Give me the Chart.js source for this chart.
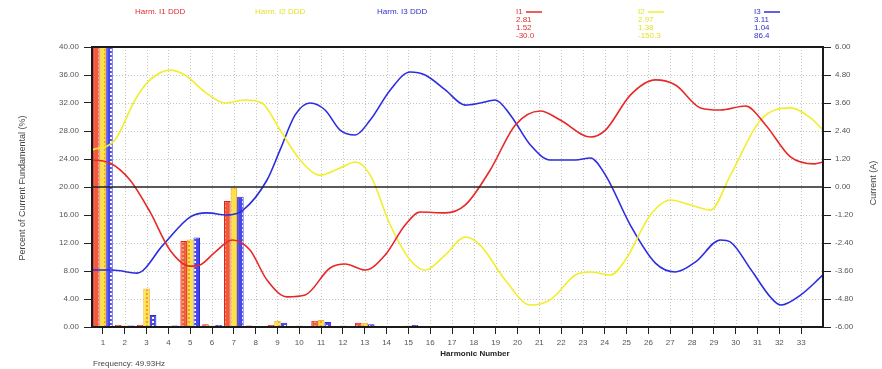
<!DOCTYPE html>
<html>
<head>
<meta charset="utf-8">
<script src="https://cdn.jsdelivr.net/npm/chart.js@4.4.1/dist/chart.umd.min.js"></script>
<style>
  html, body { margin: 0; padding: 0; background: #ffffff; }
  #wrap { width: 882px; height: 369px; position: relative; }
</style>
</head>
<body>
<div id="wrap"><canvas id="chart" width="882" height="369"></canvas></div>
<script>
// Harmonic orders on the x axis
const harmonics = [1,2,3,4,5,6,7,8,9,10,11,12,13,14,15,16,17,18,19,20,21,22,23,24,25,26,27,28,29,30,31,32,33];

// Harmonic magnitudes, percent of fundamental, per phase current
const harmI1 = [100,0.3,0.3,0.1,12.3,0.4,18.0,0.2,0.3,0.1,0.9,0.1,0.6,0.1,0.1,0.05,0.05,0.05,0.05,0.05,0.05,0.05,0.05,0.05,0.05,0.05,0.05,0.05,0.05,0.05,0.05,0.05,0.05];
const harmI2 = [100,0.2,5.5,0.1,12.5,0.2,19.9,0.1,0.9,0.2,1.0,0.2,0.6,0.1,0.2,0.05,0.05,0.05,0.05,0.05,0.05,0.05,0.05,0.05,0.05,0.05,0.05,0.05,0.05,0.05,0.05,0.05,0.05];
const harmI3 = [100,0.2,1.7,0.2,12.8,0.3,18.6,0.1,0.6,0.1,0.7,0.1,0.4,0.1,0.3,0.05,0.05,0.05,0.05,0.05,0.05,0.05,0.05,0.05,0.05,0.05,0.05,0.05,0.05,0.05,0.05,0.05,0.05];

// Current waveforms over one cycle, [position on harmonic axis, amps]
const waveI1 = [[0.50,1.16],[1.32,1.03],[2.24,0.30],[3.16,-1.07],[4.07,-2.70],[4.99,-3.39],[5.45,-3.34],[6.14,-2.79],[6.92,-2.27],[7.74,-2.70],[8.52,-3.99],[9.44,-4.71],[10.27,-4.63],[11.41,-3.47],[12.10,-3.30],[13.02,-3.56],[13.94,-2.91],[14.85,-1.63],[15.54,-1.07],[16.69,-1.11],[17.61,-0.77],[18.75,0.73],[19.90,2.66],[21.05,3.26],[21.96,2.87],[23.34,2.14],[24.03,2.44],[25.17,3.94],[26.32,4.59],[27.24,4.37],[28.39,3.39],[29.30,3.30],[30.45,3.47],[31.37,2.66],[32.51,1.29],[33.61,0.99],[34.00,1.07]];
const waveI2 = [[0.50,1.59],[1.55,2.01],[2.47,3.73],[3.16,4.59],[4.07,5.01],[4.76,4.80],[5.68,4.07],[6.60,3.60],[7.51,3.73],[8.29,3.60],[9.12,2.44],[10.04,1.16],[10.95,0.51],[11.87,0.81],[12.56,1.07],[13.25,0.51],[14.17,-1.63],[15.08,-3.13],[15.77,-3.56],[16.69,-2.91],[17.61,-2.14],[18.29,-2.49],[19.44,-3.99],[20.59,-5.06],[21.50,-4.84],[22.65,-3.77],[23.34,-3.64],[24.26,-3.77],[24.94,-3.13],[26.09,-1.20],[27.01,-0.56],[27.93,-0.77],[28.84,-0.99],[29.76,0.51],[31.14,2.87],[32.51,3.39],[33.43,2.96],[34.00,2.44]];
const waveI3 = [[0.50,-3.56],[1.42,-3.56],[2.56,-3.69],[3.75,-2.49],[4.99,-1.29],[5.77,-1.11],[6.69,-1.20],[7.42,-0.99],[8.52,0.30],[9.12,1.59],[9.81,3.09],[10.50,3.60],[11.18,3.30],[11.87,2.44],[12.56,2.23],[13.25,2.87],[14.17,4.16],[15.08,4.93],[15.77,4.80],[16.69,4.16],[17.61,3.51],[18.29,3.60],[18.98,3.73],[19.67,3.09],[20.59,1.80],[21.50,1.16],[22.65,1.16],[23.34,1.24],[24.03,0.51],[25.17,-1.63],[26.32,-3.26],[27.24,-3.64],[28.16,-3.21],[29.30,-2.27],[29.76,-2.36],[30.71,-3.56],[31.63,-4.76],[32.06,-5.06],[32.97,-4.63],[34.00,-3.77]];

// Axis ticks
const percentTicks = [0,4,8,12,16,20,24,28,32,36,40];
const ampTicks = [-6,-4.8,-3.6,-2.4,-1.2,0,1.2,2.4,3.6,4.8,6];

// Header labels and readings
const seriesNames = ['Harm. I1 DDD', 'Harm. I2 DDD', 'Harm. I3 DDD'];
const phaseNames = ['I1', 'I2', 'I3'];
const readingsI1 = ['2.81', '1.52', '-30.0'];
const readingsI2 = ['2.97', '1.38', '-150.3'];
const readingsI3 = ['3.11', '1.04', '86.4'];
const frequencyText = 'Frequency: 49.93Hz';

const RED = '#e82828', YELLOW = '#f2ee2c', BLUE = '#2c2ce0';
const FONT = '"Liberation Sans", Arial, sans-serif';

function barPattern(base, mark) {
  const c = document.createElement('canvas');
  c.width = 6; c.height = 4;
  const g = c.getContext('2d');
  g.fillStyle = base; g.fillRect(0, 0, 6, 4);
  g.fillStyle = mark; g.fillRect(2, 1, 2, 2);
  return g.createPattern(c, 'repeat');
}

const toPoints = arr => arr.map(p => ({ x: p[0], y: p[1] }));
const toBars = vals => harmonics.map((h, i) => ({ x: h, y: vals[i] }));

const decor = {
  id: 'decor',
  beforeDatasetsDraw(chart) {
    const { ctx, chartArea: a, scales } = chart;
    ctx.save();
    ctx.strokeStyle = '#c4c4c4';
    ctx.lineWidth = 1;
    ctx.setLineDash([1, 2]);
    harmonics.forEach(h => {
      const x = Math.round(scales.x.getPixelForValue(h)) + 0.5;
      ctx.beginPath(); ctx.moveTo(x, a.top); ctx.lineTo(x, a.bottom); ctx.stroke();
    });
    percentTicks.forEach(v => {
      if (v === 0 || v === 40 || v === 20) return;
      const y = Math.round(scales.y.getPixelForValue(v)) + 0.5;
      ctx.beginPath(); ctx.moveTo(a.left, y); ctx.lineTo(a.right, y); ctx.stroke();
    });
    ctx.restore();
  },
  afterDatasetsDraw(chart) {
    const { ctx, chartArea: a, scales } = chart;
    ctx.save();
    // zero-current reference line
    const y0 = scales.y1.getPixelForValue(0);
    ctx.strokeStyle = '#222';
    ctx.lineWidth = 1.3;
    ctx.beginPath(); ctx.moveTo(a.left, y0); ctx.lineTo(a.right, y0); ctx.stroke();
    // plot frame
    ctx.strokeStyle = '#1a1a1a';
    ctx.lineWidth = 2;
    ctx.strokeRect(a.left, a.top, a.right - a.left, a.bottom - a.top);
    ctx.restore();
  },
  afterDraw(chart) {
    const { ctx } = chart;
    ctx.save();
    ctx.textBaseline = 'middle';
    ctx.font = '8px ' + FONT;

    // series names
    const nameX = [135, 255, 377];
    const colors = ['#e03030', '#e6e22a', '#3030c8'];
    seriesNames.forEach((t, i) => {
      ctx.fillStyle = colors[i];
      ctx.textAlign = 'left';
      ctx.fillText(t, nameX[i], 12);
    });

    // per-phase readings
    const colX = [516, 638, 754];
    const readings = [readingsI1, readingsI2, readingsI3];
    const lineCols = [RED, YELLOW, BLUE];
    phaseNames.forEach((p, i) => {
      ctx.fillStyle = colors[i];
      ctx.textAlign = 'left';
      ctx.fillText(p, colX[i], 12);
      ctx.strokeStyle = lineCols[i];
      ctx.lineWidth = 1.5;
      ctx.beginPath(); ctx.moveTo(colX[i] + 10, 12); ctx.lineTo(colX[i] + 26, 12); ctx.stroke();
      readings[i].forEach((r, k) => ctx.fillText(r, colX[i], 20 + k * 8));
    });

    // axis titles
    ctx.fillStyle = '#444';
    ctx.font = '9px ' + FONT;
    ctx.textAlign = 'center';
    ctx.save();
    ctx.translate(23, 188);
    ctx.rotate(-Math.PI / 2);
    ctx.fillText('Percent of Current Fundamental (%)', 0, 0);
    ctx.restore();
    ctx.save();
    ctx.translate(874, 183);
    ctx.rotate(-Math.PI / 2);
    ctx.fillText('Current (A)', 0, 0);
    ctx.restore();

    ctx.fillStyle = '#222';
    ctx.font = 'bold 8px ' + FONT;
    ctx.fillText('Harmonic Number', 475, 354);
    ctx.font = '8px ' + FONT;
    ctx.fillStyle = '#444';
    ctx.textAlign = 'left';
    ctx.fillText(frequencyText, 93, 364);
    ctx.restore();
  }
};

const tickFont = { family: FONT, size: 8 };

new Chart(document.getElementById('chart'), {
  type: 'bar',
  data: {
    datasets: [
      { type: 'line', label: 'I1', data: toPoints(waveI1), yAxisID: 'y1', borderColor: RED, borderWidth: 1.6, pointRadius: 0, cubicInterpolationMode: 'monotone', fill: false, order: 0 },
      { type: 'line', label: 'I2', data: toPoints(waveI2), yAxisID: 'y1', borderColor: YELLOW, borderWidth: 1.6, pointRadius: 0, cubicInterpolationMode: 'monotone', fill: false, order: 0 },
      { type: 'line', label: 'I3', data: toPoints(waveI3), yAxisID: 'y1', borderColor: BLUE, borderWidth: 1.6, pointRadius: 0, cubicInterpolationMode: 'monotone', fill: false, order: 0 },
      { label: seriesNames[0], data: toBars(harmI1), yAxisID: 'y', backgroundColor: barPattern('#ee5a3a', '#f7a070'), borderColor: '#e02020', borderWidth: 1, order: 1 },
      { label: seriesNames[1], data: toBars(harmI2), yAxisID: 'y', backgroundColor: barPattern('#fbe24a', '#f4a030'), borderColor: '#f2b020', borderWidth: 1, order: 1 },
      { label: seriesNames[2], data: toBars(harmI3), yAxisID: 'y', backgroundColor: barPattern('#4848e8', '#ffffff'), borderColor: '#2828d8', borderWidth: 1, order: 1 }
    ]
  },
  options: {
    responsive: false,
    animation: false,
    events: [],
    layout: { padding: { top: 47, left: 0, right: 0, bottom: 0 } },
    plugins: { legend: { display: false }, tooltip: { enabled: false } },
    datasets: { bar: { categoryPercentage: 0.9, barPercentage: 1.0, grouped: true } },
    scales: {
      x: {
        type: 'linear',
        offset: false,
        min: 0.5,
        max: 34,
        afterBuildTicks: s => { s.ticks = harmonics.map(v => ({ value: v })); },
        afterFit: s => { s.height = 42; },
        ticks: { autoSkip: false, maxRotation: 0, font: tickFont, color: '#555', padding: 4 },
        grid: { offset: false, drawOnChartArea: false, drawTicks: true, tickLength: 7, tickColor: '#222', tickWidth: 1 },
        border: { display: false }
      },
      y: {
        position: 'left',
        min: 0,
        max: 40,
        afterBuildTicks: s => { s.ticks = percentTicks.map(v => ({ value: v })); },
        afterFit: s => { s.width = 92; },
        ticks: { font: tickFont, color: '#555', padding: 5, callback: v => Number(v).toFixed(2) },
        grid: { drawOnChartArea: false, tickLength: 8, tickColor: '#222', tickWidth: 1 },
        border: { display: false }
      },
      y1: {
        position: 'right',
        min: -6,
        max: 6,
        afterBuildTicks: s => { s.ticks = ampTicks.map(v => ({ value: v })); },
        afterFit: s => { s.width = 59; },
        ticks: { font: tickFont, color: '#555', padding: 4, callback: v => (Math.abs(v) < 1e-9 ? 0 : Number(v)).toFixed(2) },
        grid: { drawOnChartArea: false, tickLength: 8, tickColor: '#222', tickWidth: 1 },
        border: { display: false }
      }
    }
  },
  plugins: [decor]
});
</script>
</body>
</html>
